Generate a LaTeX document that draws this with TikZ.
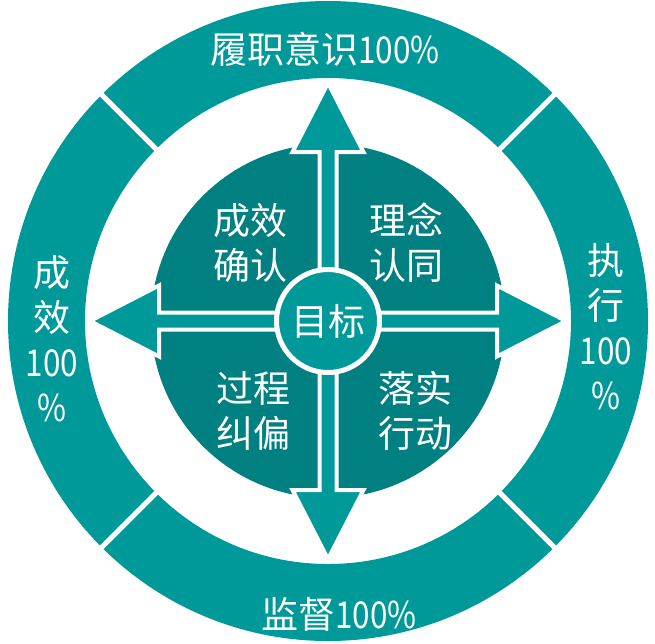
\documentclass[tikz,border=0pt]{standalone}
\usepackage{fontspec}
\setmainfont{Noto Sans CJK SC}
\newfontfamily\digfont[FakeStretch=0.85]{Noto Sans CJK SC}
\usetikzlibrary{calc}
\definecolor{ringc}{RGB}{0,153,153}
\definecolor{darkc}{RGB}{0,128,128}
\tikzset{
  lbl/.style={text=white, inner sep=0pt, align=center, font=\fontsize{37pt}{45pt}\selectfont},
  sep/.style={white, line width=5pt},
  arrowshape/.style={fill=ringc, draw=white, line width=4pt, line join=miter}
}
\newcommand{\dg}[1]{{\digfont #1}}
\begin{document}
\begin{tikzpicture}[x=1pt,y=-1pt]
\useasboundingbox (0,0) rectangle (655,643);
\coordinate (C) at (328,321);
% outer ring
\fill[ringc, even odd rule] (C) circle (320pt) (C) circle (243pt);
\foreach \a in {45,135,225,315}
  \draw[sep] ($(C)+(\a:238pt)$) -- ($(C)+(\a:326pt)$);
% dark disc
\fill[darkc] (C) circle (177pt);
% arrows
\foreach \r in {0,90,180,270}{
  \begin{scope}[shift={(C)}, rotate=\r]
    \draw[arrowshape] (-8.5,0) -- (-8.5,-169) -- (-35.5,-169) -- (0,-238)
      -- (35.5,-169) -- (8.5,-169) -- (8.5,0) -- cycle;
  \end{scope}
}
% centre
\node[circle, fill=ringc, draw=white, line width=5pt, minimum size=103pt, inner sep=0pt,
      text=white, font=\fontsize{37pt}{45pt}\selectfont] (goal) at (C) {目标};
% quadrant texts
\node[lbl] (q1) at (250,243) {成效\\确认};
\node[lbl] (q2) at (406,243) {理念\\认同};
\node[lbl] (q3) at (253,411) {过程\\纠偏};
\node[lbl] (q4) at (415,411) {落实\\行动};
% ring texts
\node[lbl] (top) at (325,49) {履职意识\dg{100\%}};
\node[lbl] (bottom) at (339,614) {监督\dg{100\%}};
\node[lbl] (left) at (52,339) {成\\效\\\dg{100}\\\dg{\%}};
\node[lbl] (right) at (606,327) {执\\行\\\dg{100}\\\dg{\%}};
\end{tikzpicture}
\end{document}
